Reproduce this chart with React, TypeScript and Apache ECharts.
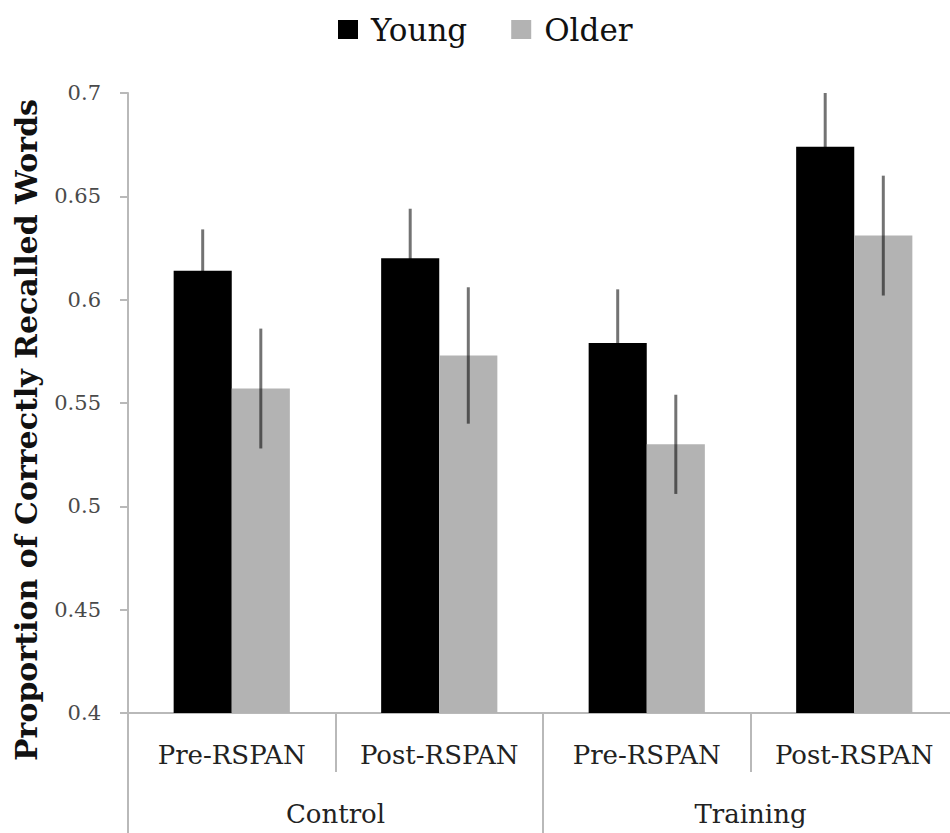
import React, { useEffect, useRef } from "react";
import * as echarts from "echarts";

const groups = ["Control", "Training"];
const phases = ["Pre-RSPAN", "Post-RSPAN", "Pre-RSPAN", "Post-RSPAN"];
const phaseGroup = [0, 0, 1, 1];
const seriesNames = ["Young", "Older"];
const young = [0.614, 0.62, 0.579, 0.674];
const youngErr = [0.02, 0.024, 0.026, 0.026];
const older = [0.557, 0.573, 0.53, 0.631];
const olderErr = [0.029, 0.033, 0.024, 0.029];
const yTicks = { min: 0.4, max: 0.7, interval: 0.05 };
const yTitle = "Proportion of Correctly Recalled Words";

const SERIF = "'DejaVu Serif', serif";
const GAP = 0.44;

export default function App() {
  const ref = useRef<HTMLDivElement>(null);
  useEffect(() => {
    if (!ref.current) return;
    const chart = echarts.init(ref.current, null, { renderer: "svg" });
    const categories = phases.map((p, i) => `${groups[phaseGroup[i]]}|${p}`);
    const errData: any[] = [];
    young.forEach((v, i) => errData.push([i, v - youngErr[i], v + youngErr[i], -1]));
    older.forEach((v, i) => errData.push([i, v - olderErr[i], v + olderErr[i], 1]));
    const axisGray = "#b9b9b9";
    chart.setOption({
      animation: false,
      backgroundColor: "#ffffff",
      legend: {
        data: seriesNames,
        left: 333,
        top: 9,
        icon: "rect",
        itemWidth: 20,
        itemHeight: 19,
        itemGap: 44,
        textStyle: {
          fontFamily: SERIF,
          fontSize: 31,
          color: "#111",
          padding: [0, 0, 0, 8],
        },
      },
      graphic: [
        {
          type: "text",
          x: 26,
          y: 430,
          rotation: Math.PI / 2,
          style: {
            text: yTitle,
            fontFamily: SERIF,
            fontWeight: "bold",
            fontSize: 30,
            fill: "#111",
            textAlign: "center",
            textVerticalAlign: "middle",
          },
        },
      ],
      grid: {
        left: 128,
        top: 93,
        width: 830,
        height: 620,
        containLabel: false,
        outerBoundsMode: "none",
      },
      xAxis: [
        {
          type: "category",
          data: categories,
          position: "bottom",
          axisLine: { show: true, lineStyle: { color: axisGray, width: 2 } },
          axisTick: { show: true, length: 59, lineStyle: { color: axisGray, width: 2 } },
          axisLabel: {
            formatter: (v: string) => v.split("|")[1],
            fontFamily: SERIF,
            fontSize: 26,
            color: "#222",
            margin: 29,
            interval: 0,
          },
        },
        {
          type: "category",
          data: groups,
          position: "bottom",
          gridIndex: 0,
          axisLine: { show: false },
          axisTick: { show: true, length: 122, lineStyle: { color: axisGray, width: 2 } },
          axisLabel: {
            fontFamily: SERIF,
            fontSize: 26,
            color: "#222",
            margin: 88,
            interval: 0,
          },
        },
      ],
      yAxis: {
        type: "value",
        min: yTicks.min,
        max: yTicks.max,
        interval: yTicks.interval,
        axisLine: { show: true, lineStyle: { color: axisGray, width: 2 } },
        axisTick: { show: true, length: 8, lineStyle: { color: axisGray, width: 2 } },
        splitLine: { show: false },
        axisLabel: {
          formatter: (v: number) => String(+v.toFixed(2)),
          fontFamily: SERIF,
          fontSize: 21,
          color: "#4a4a4a",
          margin: 27,
        },
      },
      series: [
        {
          name: seriesNames[0],
          type: "bar",
          data: young,
          itemStyle: { color: "#000000" },
          barGap: "0%",
          barCategoryGap: `${GAP * 100}%`,
        },
        {
          name: seriesNames[1],
          type: "bar",
          data: older,
          itemStyle: { color: "#b3b3b3" },
          barGap: "0%",
          barCategoryGap: `${GAP * 100}%`,
        },
        {
          name: "err",
          type: "custom",
          z: 10,
          data: errData,
          encode: { x: 0, y: [1, 2] },
          renderItem: (params: any, api: any) => {
            const cat = api.value(0);
            const lo = api.coord([cat, api.value(1)]);
            const hi = api.coord([cat, api.value(2)]);
            const bw = api.size([1, 0])[0];
            const off = api.value(3) * bw * (1 - GAP) / 4;
            return {
              type: "line",
              shape: { x1: lo[0] + off, y1: lo[1], x2: hi[0] + off, y2: hi[1] },
              style: { stroke: "rgba(0,0,0,0.55)", lineWidth: 3 },
            };
          },
        },
      ],
    });
    return () => chart.dispose();
  }, []);
  return (
    <div
      ref={ref}
      style={{ position: "fixed", left: 0, top: 0, width: 950, height: 833, background: "#fff" }}
    />
  );
}
